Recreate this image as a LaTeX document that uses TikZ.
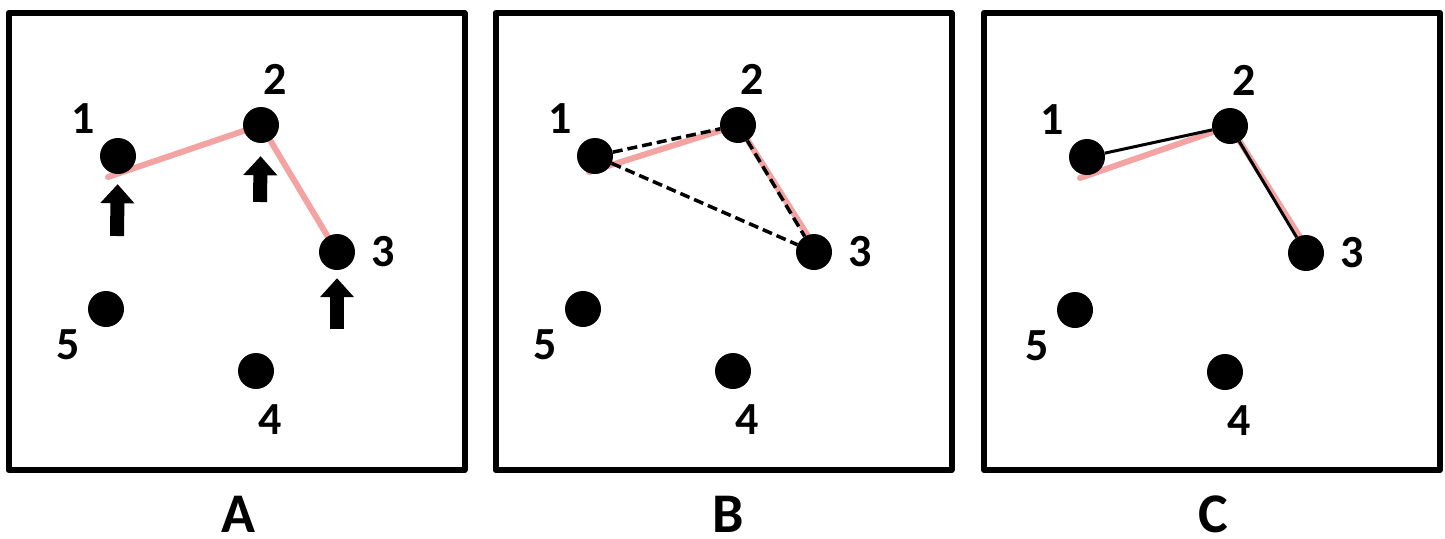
\documentclass[tikz,border=0pt]{standalone}
\usepackage{fontspec}
\setmainfont{Carlito}
\usepackage{tikz}
\usetikzlibrary{arrows.meta,positioning,backgrounds}
\usepackage{xcolor}
\definecolor{trace}{HTML}{F4A3A3}

\begin{document}
\begin{tikzpicture}[
    x=1pt,y=-1pt,
    dot/.style={circle,fill=black,inner sep=0pt,minimum size=36pt},
    num/.style={font=\fontsize{46}{46}\selectfont\bfseries,inner sep=0pt},
    caption/.style={font=\fontsize{56}{56}\selectfont\bfseries,inner sep=0pt},
    frame/.style={line width=6pt,line join=round},
    pinkpath/.style={trace,line width=6pt,line cap=round,line join=round},
    dashlink/.style={line width=3.5pt,dash pattern=on 10pt off 5pt},
    solidlink/.style={line width=3pt},
    blockarr/.style={line width=14pt,-{Triangle[width=33pt,length=19pt]},shorten >=10pt}
]
\useasboundingbox (0,0) rectangle (1445,538);

% three frames, caption under each
\foreach \p/\bx/\cx in {A/8.5/238,B/495.5/728,C/984/1213}{
  \draw[frame] (\bx,13) rectangle ++(456,457);
  \node[caption] (cap\p) at (\cx,514) {\p};
}

% the same five points in every frame
\foreach \p/\dx/\dy in {A/0/0,B/477/0,C/969/1}{
  \begin{scope}[shift={(\dx,\dy)}]
    \node[dot] (\p1) at (118,156) {};
    \node[dot] (\p2) at (261,125) {};
    \node[dot] (\p3) at (337,252) {};
    \node[dot] (\p4) at (256,371) {};
    \node[dot] (\p5) at (106,309) {};
    \node[num] (l\p1) at (83,119) {1};
    \node[num] (l\p2) at (275,79) {2};
    \node[num] (l\p3) at (383,252) {3};
    \node[num] (l\p4) at (270,420) {4};
    \node[num] (l\p5) at (68,345) {5};
  \end{scope}
}

% pink traces sit behind the dots
\coordinate (As) at (108,177);
\coordinate (Bs) at (589,172);
\coordinate (Cs) at (1080,178);
\begin{scope}[on background layer]
  \draw[pinkpath] (As) -- (A2.center) -- (A3.center);
  \draw[pinkpath] (Bs) -- (B2.center) -- ([xshift=4pt]B3.center);
  \draw[pinkpath] (Cs) -- (C2.center) -- ([xshift=4pt]C3.center);
\end{scope}

% A: block arrows under points 1, 2, 3
\coordinate (a1) at (117,236);
\coordinate (a2) at (260,202);
\coordinate (a3) at (337,329);
\draw[blockarr] (a1) -- (A1);
\draw[blockarr,shorten >=13pt] (a2) -- (A2);
\draw[blockarr,shorten >=8pt] (a3) -- (A3);

% B: dashed triangle
\draw[dashlink] (B1) -- (B2);
\draw[dashlink] (B2) -- (B3);
\draw[dashlink] (B1) -- (B3);

% C: solid path 1-2-3
\draw[solidlink] (C1) -- (C2);
\draw[solidlink] (C2) -- (C3);
\end{tikzpicture}
\end{document}
